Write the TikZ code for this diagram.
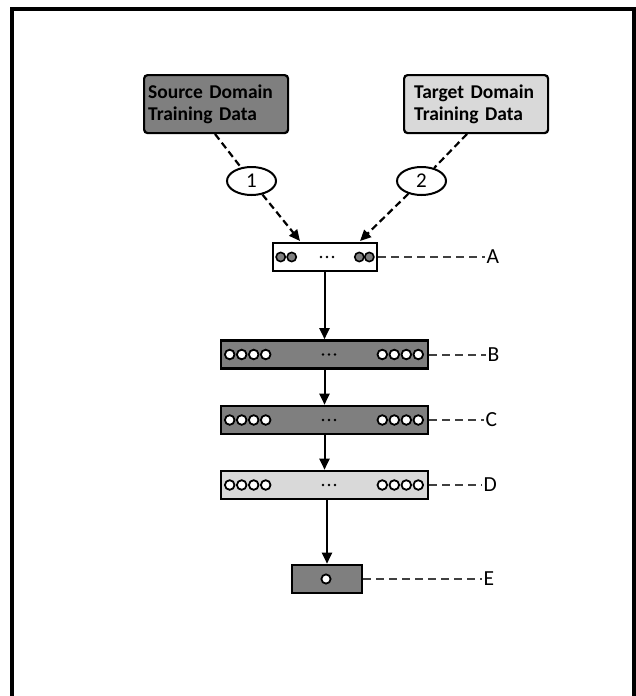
\documentclass[tikz,border=0pt]{standalone}
\usepackage{fontspec}
\setmainfont{Carlito}
\usetikzlibrary{arrows.meta,shapes.geometric}
\definecolor{dk}{HTML}{7F7F7F}
\definecolor{lt}{HTML}{D9D9D9}
\definecolor{lbl}{HTML}{404040}
\definecolor{cg}{HTML}{808080}
\begin{document}
\begin{tikzpicture}[x=1pt,y=-1pt,
 databox/.style={draw,line width=2.2pt,rounded corners=3.5pt,minimum height=58pt,
   font=\bfseries\fontsize{19.5}{22}\selectfont,align=left,anchor=north west,inner ysep=2pt},
 layer/.style={draw,line width=2.6pt,minimum height=28pt,inner sep=0pt},
 numell/.style={ellipse,draw,line width=2pt,fill=white,minimum width=49pt,
   minimum height=28pt,inner sep=0pt,font=\fontsize{21}{21}\selectfont},
 feed/.style={line width=2.2pt,dash pattern=on 7pt off 4pt},
 feedarr/.style={feed,-{Triangle[length=11pt,width=10pt]}},
 flow/.style={line width=2pt,-{Triangle[length=11pt,width=10pt]}},
 lblline/.style={draw=lbl,line width=2pt,dash pattern=on 8pt off 5pt},
 lbltext/.style={anchor=west,inner sep=1.5pt,font=\fontsize{21.5}{21.5}\selectfont},
 wcirc/.style={draw,line width=1.8pt,fill=white},
 gcirc/.style={draw,line width=1.6pt,fill=cg},
 dot/.style={fill=black}
]
\useasboundingbox (0,0) rectangle (636,696);
% frame
\draw[line width=3.2pt] (12,700) -- (12,9) -- (634,9) -- (634,700);

% data boxes
\node[databox,fill=dk,text width=136pt,inner xsep=4pt] (src) at (143,74) {Source Domain\\Training Data};
\node[databox,fill=lt,text width=124pt,inner xsep=10pt] (tgt) at (403,74) {Target Domain\\Training Data};

% layers
\node[layer,fill=white,minimum width=104pt] (A) at (325,257) {};
\node[layer,fill=dk,minimum width=207pt] (B) at (324.5,354.5) {};
\node[layer,fill=dk,minimum width=207pt] (C) at (324.5,420) {};
\node[layer,fill=lt,minimum width=207pt] (D) at (324.5,485) {};
\node[layer,fill=dk,minimum width=70pt] (E) at (327,579) {};

% circles in A
\foreach \dx in {9,20} \draw[gcirc] ([xshift=\dx pt]A.west) circle (4.6pt);
\foreach \dx in {-19,-9} \draw[gcirc] ([xshift=\dx pt]A.east) circle (4.6pt);
\foreach \dx in {-6,0,6} \fill[dot] ([xshift=\dx pt + 2pt]A.center) circle (1.4pt);

% circles in B, C, D
\foreach \L in {B,C,D}{
  \foreach \dx in {10,22,34,46} \draw[wcirc] ([xshift=\dx pt]\L.west) circle (4.8pt);
  \foreach \dx in {-47,-35,-23,-11} \draw[wcirc] ([xshift=\dx pt]\L.east) circle (4.8pt);
  \foreach \dx in {-6,0,6} \fill[dot] ([xshift=\dx pt + 4.5pt]\L.center) circle (1.4pt);
}
% circle in E
\draw[wcirc] ([xshift=-1pt]E.center) circle (4.6pt);

% numbered ellipses and dashed feeds
\coordinate (s0) at (215,134);
\coordinate (t0) at (467,134);
\coordinate (a1) at (300,241);
\coordinate (a2) at (360,241);
\node[numell] (e1) at (251.5,181) {1};
\node[numell] (e2) at (421.5,181) {2};
\draw[feed] (s0) -- (e1);
\draw[feedarr] (e1) -- (a1);
\draw[feed] (t0) -- (e2);
\draw[feedarr] (e2) -- (a2);

% flow arrows
\draw[flow] (A.south -| B.north) -- (B.north);
\draw[flow] (B) -- (C);
\draw[flow] (C) -- (D);
\draw[flow] (E.north |- D.south) -- (E.north);

% labels
\node[lbltext] (lA) at (485,257) {A};
\node[lbltext] (lB) at (486,354.5) {B};
\node[lbltext] (lC) at (484,420) {C};
\node[lbltext] (lD) at (482,485) {D};
\node[lbltext] (lE) at (482,579) {E};
\draw[lblline] (A.east) -- (lA.west);
\draw[lblline] (B.east) -- (lB.west);
\draw[lblline] (C.east) -- (lC.west);
\draw[lblline] (D.east) -- (lD.west);
\draw[lblline] (E.east) -- (lE.west);
\end{tikzpicture}
\end{document}
